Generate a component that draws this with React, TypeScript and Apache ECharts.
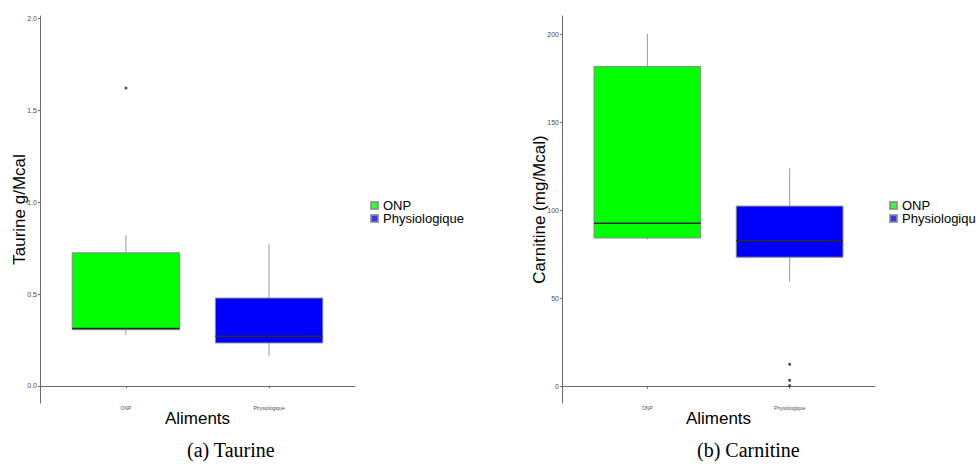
import React, { useEffect, useRef } from "react";
import * as echarts from "echarts";

const categories = ["ONP", "Physiologique"];
const boxColors = ["#00ff00", "#0000ff"];

// Taurine (g/Mcal)
const taurineMin = [0.277, 0.163];
const taurineQ1 = [0.306, 0.234];
const taurineMedian = [0.313, 0.27];
const taurineQ3 = [0.724, 0.478];
const taurineMax = [0.82, 0.77];
const taurineOutliers: [number, number][] = [[1, 1.62]];
const taurineTicks = [0, 0.5, 1.0, 1.5, 2.0];

// Carnitine (mg/Mcal)
const carnitineMin = [83.6, 59.5];
const carnitineQ1 = [84.4, 73.5];
const carnitineMedian = [92.8, 82.9];
const carnitineQ3 = [181.7, 102.5];
const carnitineMax = [200.2, 124];
const carnitineOutliers: [number, number][] = [[2, 12.7], [2, 3.6], [2, 0.6]];
const carnitineTicks = [0, 50, 100, 150, 200];

const xTicks = [1, 2];
const FONT = "Liberation Sans, Arial, sans-serif";

function boxRows(mn: number[], q1: number[], md: number[], q3: number[], mx: number[]) {
  return categories.map((_, i) => [i + 1, mn[i], q1[i], md[i], q3[i], mx[i]]);
}

function renderBox(params: any, api: any) {
  const x = api.value(0);
  const mn = api.value(1), q1 = api.value(2), md = api.value(3), q3 = api.value(4), mx = api.value(5);
  const w = api.size([0.75, 0])[0];
  const pMin = api.coord([x, mn]);
  const pQ1 = api.coord([x, q1]);
  const pMd = api.coord([x, md]);
  const pQ3 = api.coord([x, q3]);
  const pMax = api.coord([x, mx]);
  const cx = pMin[0];
  const color = boxColors[params.dataIndex];
  return {
    type: "group",
    children: [
      { type: "line", shape: { x1: cx, y1: pMax[1], x2: cx, y2: pQ3[1] }, style: { stroke: "#9a9a9a", lineWidth: 1 } },
      { type: "line", shape: { x1: cx, y1: pQ1[1], x2: cx, y2: pMin[1] }, style: { stroke: "#9a9a9a", lineWidth: 1 } },
      {
        type: "rect",
        shape: { x: cx - w / 2, y: pQ3[1], width: w, height: pQ1[1] - pQ3[1] },
        style: { fill: color, stroke: "#8a8a8a", lineWidth: 1 },
      },
      { type: "line", shape: { x1: cx - w / 2, y1: pMd[1], x2: cx + w / 2, y2: pMd[1] }, style: { stroke: "#2a2a2a", lineWidth: 1.5 } },
    ],
  };
}

function xAxisCfg(gridIndex: number) {
  return {
    type: "value",
    gridIndex,
    min: 0.4,
    max: 2.6,
    name: "Aliments",
    nameLocation: "middle",
    nameGap: 7,
    nameMoveOverlap: false,
    nameTextStyle: { fontSize: 17, color: "#000", fontFamily: FONT },
    axisLine: { show: true, lineStyle: { color: "#6a6a6a", width: 1 } },
    axisTick: { show: true, length: 2, customValues: xTicks, lineStyle: { color: "#6a6a6a" } },
    axisLabel: {
      customValues: xTicks,
      formatter: (v: number) => categories[Math.round(v) - 1] ?? "",
      fontSize: 5,
      color: "#4d4d4d",
      margin: 2,
      fontFamily: FONT,
    },
    splitLine: { show: false },
  };
}

function yAxisCfg(gridIndex: number, min: number, max: number, ticks: number[], name: string, digits: number, gap: number) {
  return {
    type: "value",
    gridIndex,
    min,
    max,
    name,
    nameLocation: "middle",
    nameGap: gap,
    nameMoveOverlap: false,
    nameTextStyle: { fontSize: 17, color: "#000", fontFamily: FONT },
    axisLine: { show: true, lineStyle: { color: "#6a6a6a", width: 1 } },
    axisTick: { show: true, length: 2, customValues: ticks, lineStyle: { color: "#6a6a6a" } },
    axisLabel: {
      customValues: ticks,
      formatter: (v: number) => v.toFixed(digits),
      fontSize: 7,
      color: "#4d4d4d",
      margin: 3,
      fontFamily: FONT,
    },
    splitLine: { show: false },
  };
}

function legendCfg(left: number) {
  return {
    data: categories,
    orient: "vertical",
    left,
    top: 194,
    itemWidth: 7,
    itemHeight: 7,
    itemGap: 0,
    icon: "rect",
    textStyle: { fontSize: 13, color: "#000", fontFamily: FONT },
  };
}

export default function App() {
  const ref = useRef<HTMLDivElement>(null);
  useEffect(() => {
    if (!ref.current) return;
    const chart = echarts.init(ref.current, undefined, { renderer: "svg" });
    chart.setOption({
      animation: false,
      backgroundColor: "#fff",
      textStyle: { fontFamily: FONT },
      grid: [
        { left: 40, top: 16, width: 315, height: 387 },
        { left: 562, top: 16, width: 313, height: 387 },
      ],
      xAxis: [xAxisCfg(0), xAxisCfg(1)],
      yAxis: [
        yAxisCfg(0, -0.0924, 2.011, taurineTicks, "Taurine g/Mcal", 1, 12),
        yAxisCfg(1, -9.25, 210.4, carnitineTicks, "Carnitine (mg/Mcal)", 0, 14),
      ],
      legend: [legendCfg(365), legendCfg(884)],
      series: [
        {
          type: "custom",
          xAxisIndex: 0,
          yAxisIndex: 0,
          renderItem: renderBox,
          encode: { x: 0, y: [1, 2, 3, 4, 5] },
          data: boxRows(taurineMin, taurineQ1, taurineMedian, taurineQ3, taurineMax),
          silent: true,
        },
        {
          type: "custom",
          xAxisIndex: 1,
          yAxisIndex: 1,
          renderItem: renderBox,
          encode: { x: 0, y: [1, 2, 3, 4, 5] },
          data: boxRows(carnitineMin, carnitineQ1, carnitineMedian, carnitineQ3, carnitineMax),
          silent: true,
        },
        {
          type: "scatter",
          xAxisIndex: 0,
          yAxisIndex: 0,
          symbolSize: 3,
          itemStyle: { color: "#222" },
          data: taurineOutliers,
        },
        {
          type: "scatter",
          xAxisIndex: 1,
          yAxisIndex: 1,
          symbolSize: 3,
          itemStyle: { color: "#222" },
          data: carnitineOutliers,
        },
        {
          type: "scatter",
          name: categories[0],
          xAxisIndex: 0,
          yAxisIndex: 0,
          data: [],
          itemStyle: { color: boxColors[0], borderColor: "#8a8a8a", borderWidth: 1 },
        },
        {
          type: "scatter",
          name: categories[1],
          xAxisIndex: 0,
          yAxisIndex: 0,
          data: [],
          itemStyle: { color: boxColors[1], borderColor: "#8a8a8a", borderWidth: 1 },
        },
      ],
      graphic: [
        {
          type: "text",
          left: 187,
          top: 440,
          style: { text: "(a) Taurine", fontSize: 20, fill: "#000", fontFamily: "Liberation Serif, Times New Roman, serif" },
        },
        {
          type: "text",
          left: 697,
          top: 440,
          style: { text: "(b) Carnitine", fontSize: 20, fill: "#000", fontFamily: "Liberation Serif, Times New Roman, serif" },
        },
      ],
    });
    return () => chart.dispose();
  }, []);
  return <div ref={ref} style={{ position: "fixed", left: 0, top: 0, width: 976, height: 464 }} />;
}
